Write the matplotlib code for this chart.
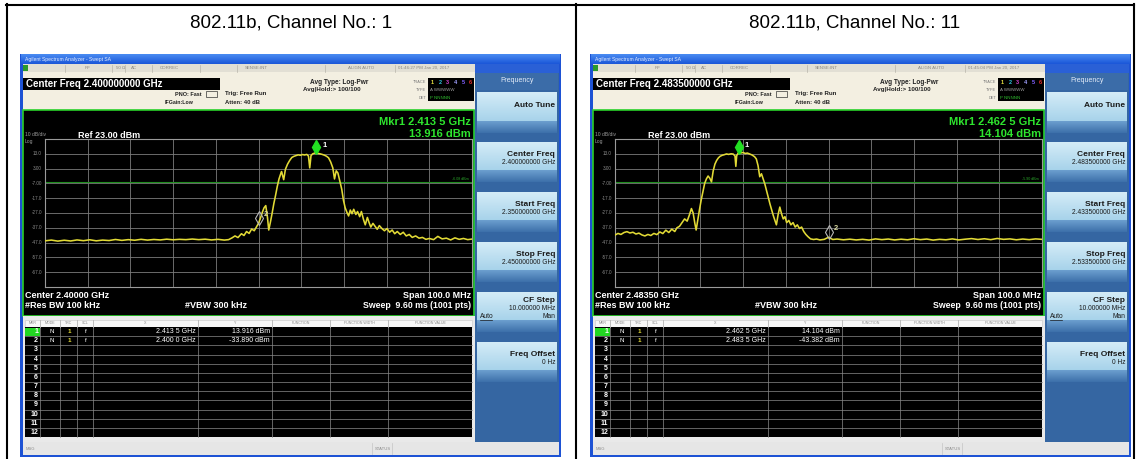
import numpy as np
import matplotlib
matplotlib.use("Agg")
import matplotlib.pyplot as plt
from matplotlib.patches import Rectangle
from matplotlib.colors import LinearSegmentedColormap
from matplotlib.transforms import offset_copy

plt.rcParams['font.family'] = ['Liberation Sans', 'DejaVu Sans']

W, H = 1137, 459

titles = ["802.11b, Channel No.: 1", "802.11b, Channel No.: 11"]
center_ghz = [2.400, 2.4835]
span_mhz = 100.0
ref_dbm = 23.0
dB_per_div = 10.0
y_labels = ["13.0", "3.00", "-7.00", "-17.0", "-27.0", "-37.0", "-47.0", "-57.0", "-67.0"]

mkr1_freq = [2.4135, 2.4625]
mkr1_level = [13.916, 14.104]
mkr2_freq = [2.4000, 2.4835]
mkr2_level = [-33.890, -43.382]
display_line = [-6.08, -5.90]
timestamps = ["01:46:27 PM Jan 20, 2017", "01:45:04 PM Jan 20, 2017"]

# trace of channel 1 (offset from center in MHz, level in dBm)
ch1_offset = [-50.0, -48.5, -47.0, -45.5, -44.0, -42.5, -41.0, -39.5, -38.0, -36.5,
              -35.0, -33.5, -32.0, -30.5, -29.0, -27.5, -26.0, -24.5, -23.0, -21.5,
              -20.0, -18.5, -17.0, -15.5, -14.0, -12.5, -11.0, -9.5, -8.0, -7.0,
              -6.2, -5.5, -4.8, -4.0, -3.4, -2.8, -2.2, -1.6, -1.0, -0.4,
              0.0, 0.4, 0.9, 1.3, 1.7, 2.1, 2.4, 2.8, 3.2, 3.6,
              4.0, 4.4, 4.8, 5.2, 5.4, 5.9, 6.3, 6.8, 7.3, 7.8,
              8.3, 8.8, 9.3, 9.8, 10.3, 10.8, 11.3, 11.7, 12.0, 12.3,
              12.7, 13.1, 13.5, 13.9, 14.4, 14.9, 15.4, 15.9, 16.4, 16.9,
              17.4, 17.8, 18.2, 18.6, 19.0, 19.5, 19.9, 20.3, 20.7, 21.1,
              21.5, 21.9, 22.3, 22.8, 23.2, 23.7, 24.1, 24.6, 25.0, 25.5,
              25.9, 26.3, 26.8, 27.3, 27.8, 28.3, 28.9, 29.5, 30.1, 30.7,
              31.3, 31.9, 32.5, 33.2, 33.9, 34.6, 35.3, 36.0, 36.8, 37.6,
              38.4, 39.2, 40.0, 41.0, 42.0, 43.0, 44.0, 45.0, 46.0, 47.0,
              48.0, 49.0, 50.0]
ch1_level = [-45.8, -45.3, -46.0, -45.4, -45.9, -45.2, -45.7, -45.1, -45.8, -45.3,
             -45.6, -44.9, -45.5, -45.0, -45.4, -44.8, -45.3, -44.9, -45.2, -44.7,
             -45.1, -44.8, -45.0, -44.6, -45.0, -44.7, -45.2, -44.8, -45.3, -45.0,
             -43.8, -42.5, -43.6, -41.0, -42.2, -39.5, -40.8, -37.8, -39.0, -36.0,
             -34.0, -31.0, -26.5, -23.5, -22.0, -30.0, -38.5, -33.0, -27.0, -20.5,
             -15.0, -9.0, -4.0, -0.5, 1.0, -4.5, 2.5, 6.0, 8.5, 10.5,
             11.3, 11.8, 12.3, 12.0, 12.5, 12.2, 12.6, 11.5, 3.5, 11.8,
             13.0, 13.4, 13.9, 13.3, 13.0, 12.6, 12.1, 11.4, 10.3, 7.5,
             3.5, -4.0, 1.5, 0.0, -5.0, -11.0, -18.5, -23.5, -26.5, -29.0,
             -25.0, -27.5, -24.5, -28.0, -26.0, -29.5, -26.0, -31.5, -35.0, -30.0,
             -33.5, -36.5, -34.0, -36.0, -38.0, -35.5, -37.5, -39.0, -37.5, -40.0,
             -38.5, -41.0, -39.5, -41.5, -40.0, -42.5, -41.5, -43.5, -42.5, -44.0,
             -43.5, -44.8, -44.2, -45.0, -42.8, -44.5, -44.0, -45.2, -43.8, -44.8,
             -44.2, -45.0, -44.6]

# trace of channel 11
ch11_offset = [-50.0, -49.3, -48.6, -47.9, -47.2, -46.5, -45.8, -45.1, -44.4, -43.7,
               -43.0, -42.3, -41.6, -40.9, -40.2, -39.5, -38.8, -38.1, -37.4, -36.7,
               -36.0, -35.5, -34.9, -34.3, -33.7, -33.1, -32.6, -32.1, -31.7, -31.3,
               -31.0, -30.6, -30.2, -29.8, -29.4, -29.0, -28.6, -28.2, -27.8, -27.4,
               -27.0, -26.6, -26.2, -25.8, -25.4, -24.9, -24.4, -23.9, -23.4, -22.8,
               -22.3, -21.9, -21.7, -21.5, -21.0, -20.5, -20.0, -19.5, -19.0, -18.4,
               -17.9, -17.3, -16.9, -16.5, -16.1, -15.7, -15.3, -14.9, -14.5, -14.1,
               -13.7, -13.3, -12.9, -12.5, -12.2, -11.8, -11.4, -11.0, -10.6, -10.2,
               -9.8, -9.3, -8.8, -8.3, -7.8, -7.3, -6.8, -6.3, -5.8, -5.3,
               -4.8, -4.2, -3.5, -2.8, -2.0, -1.0, 0.0, 1.0, 2.0, 3.5,
               5.0, 6.5, 8.0, 9.5, 11.0, 12.5, 14.0, 15.5, 17.0, 18.5,
               20.0, 21.5, 23.0, 24.5, 26.0, 27.5, 29.0, 30.5, 32.0, 33.5,
               35.0, 36.5, 38.0, 39.5, 41.0, 42.5, 44.0, 45.5, 47.0, 48.5,
               50.0]
ch11_level = [-41.9, -40.8, -41.5, -40.2, -39.6, -40.5, -40.0, -41.2, -40.6, -41.8,
              -42.5, -41.5, -42.2, -40.8, -41.6, -39.8, -40.9, -38.6, -40.2, -37.9,
              -39.5, -37.0, -36.0, -33.5, -31.0, -32.5, -28.5, -24.0, -27.0, -34.0,
              -38.5, -31.5, -24.5, -18.0, -12.5, -7.0, -4.0, -2.0, -3.5, -6.0,
              1.5, 6.0, 8.5, 10.2, 11.3, 12.0, 12.4, 12.9, 12.6, 13.0,
              12.8, 11.5, 4.5, 11.8, 14.1, 13.6, 13.9, 13.2, 13.5, 12.8,
              12.2, 11.0, 9.5, 5.0, -2.5, -0.5, -4.0, -7.5, -12.0, -16.5,
              -21.0, -25.0, -29.0, -32.5, -35.0, -28.0, -23.0, -27.5, -31.0, -29.5,
              -33.5, -32.0, -35.0, -33.5, -36.5, -35.0, -37.5, -36.5, -39.5, -41.5,
              -43.0, -44.5, -44.9, -44.6, -45.2, -44.8, -43.4, -44.9, -44.6, -45.1,
              -44.7, -45.2, -44.8, -45.3, -44.5, -45.0, -44.6, -45.2, -44.7, -45.1,
              -44.4, -45.0, -44.6, -45.3, -44.8, -45.1, -44.5, -45.2, -44.7, -44.3,
              -44.9, -44.4, -45.0, -44.2, -44.8, -44.5, -45.1, -44.6, -45.0, -44.5,
              -44.8]

traces = [(ch1_offset, ch1_level), (ch11_offset, ch11_level)]

table_cols = ["MKR", "MODE", "TRC", "SCL", "X", "Y", "FUNCTION", "FUNCTION WIDTH", "FUNCTION VALUE"]
col_edges = [25, 40, 60, 77, 93, 198, 272, 330, 388, 472]
softkeys = ["Auto Tune", "Center Freq", "Start Freq", "Stop Freq", "CF Step", "Freq Offset"]


def rect(ax, x0, y0, x1, y1, fc, ec='none', lw=0, z=1):
    ax.add_patch(Rectangle((x0, y0), x1 - x0, y1 - y0, facecolor=fc, edgecolor=ec, linewidth=lw, zorder=z))


def grad(ax, x0, y0, x1, y1, colors, z=1):
    cmap = LinearSegmentedColormap.from_list('g', colors)
    ax.imshow(np.linspace(0, 1, 64).reshape(-1, 1), extent=(x0, x1, y1, y0), cmap=cmap,
              aspect='auto', interpolation='bilinear', zorder=z)


def txt(ax, x, y, s, size, color='black', bold=False, ha='left', z=5):
    ax.text(x, y, s, fontsize=size, color=color, fontweight='bold' if bold else 'normal',
            ha=ha, va='center', zorder=z)


def fmt_freq(f):
    s = "%.4f" % f
    return s[:-1] + " " + s[-1] + " GHz"


def draw_screen(fig, bg, i, dx):
    c = center_ghz[i]
    start = c - span_mhz / 2000.0
    stop = c + span_mhz / 2000.0

    # window frame and title bar
    rect(bg, dx + 20, 54, dx + 561, 457, '#1d52d4')
    grad(bg, dx + 21, 54, dx + 560, 64, ['#4a8cf2', '#1a56d8'], z=2)
    txt(bg, dx + 25, 59.5, "Agilent Spectrum Analyzer - Swept SA", 3.6, '#e8f0ff')

    # status row
    rect(bg, dx + 23, 64, dx + 475, 72, '#e2dfd4', z=2)
    rect(bg, dx + 23, 65, dx + 28, 71, '#2a9a2a', z=3)
    for sx in [65, 112, 125, 152, 200, 237, 325, 395]:
        bg.plot([dx + sx, dx + sx], [64.5, 71.5], color='#b8b4aa', lw=0.5, zorder=3)
    for sx, s in [(85, "RF"), (116, "50 \u03a9"), (131, "AC"), (160, "CORREC"),
                  (245, "SENSE:INT"), (348, "ALIGN AUTO"), (398, timestamps[i])]:
        txt(bg, dx + sx, 68, s, 3.2, '#8a8880')

    # info area
    rect(bg, dx + 23, 72, dx + 475, 110, '#f3efe1', z=2)
    rect(bg, dx + 23, 78, dx + 220, 90, 'black', z=3)
    txt(bg, dx + 26, 84.3, "Center Freq %.9f GHz" % c, 7, 'white', bold=True)
    txt(bg, dx + 175, 94, "PNO: Fast", 4, '#222222', bold=True)
    txt(bg, dx + 165, 102.5, "IFGain:Low", 3.8, '#222222', bold=True)
    rect(bg, dx + 206, 91, dx + 217, 97, 'none', ec='#333333', lw=0.5, z=3)
    txt(bg, dx + 225, 94, "Trig: Free Run", 4.4, '#222222', bold=True)
    txt(bg, dx + 225, 102, "Atten: 40 dB", 4.2, '#222222', bold=True)
    txt(bg, dx + 310, 82, "Avg Type: Log-Pwr", 4.7, '#222222', bold=True)
    txt(bg, dx + 303, 90, "Avg|Hold:> 100/100", 4.5, '#222222', bold=True)
    for yy, s in [(82, "TRACE"), (90, "TYPE"), (98, "DET")]:
        txt(bg, dx + 426, yy, s, 2.8, '#777777', ha='right')
    rect(bg, dx + 428, 78, dx + 474, 101, 'black', z=3)
    for k, col in enumerate(['#e8e040', '#30c8e8', '#d040d0', '#a0a0ff', '#8060ff', '#e83030']):
        txt(bg, dx + 431 + k * 7.6, 82, str(k + 1), 4, col, bold=True)
    txt(bg, dx + 430, 90, "A WWWWW", 3.2, '#a0a0a0')
    txt(bg, dx + 430, 98, "P NNNNN", 3.2, '#30c030')

    # measurement display
    rect(bg, dx + 23, 110, dx + 474, 316, 'black', ec='#2ad02a', lw=1.2, z=2)
    txt(bg, dx + 471, 122, "Mkr1 " + fmt_freq(mkr1_freq[i]), 8, '#2ee52e', bold=True, ha='right')
    txt(bg, dx + 471, 134, "%.3f dBm" % mkr1_level[i], 8, '#2ee52e', bold=True, ha='right')
    txt(bg, dx + 25, 135, "10 dB/div", 3.6, '#9a9a9a')
    txt(bg, dx + 25, 141, "Log", 3.6, '#9a9a9a')
    txt(bg, dx + 78, 135, "Ref %.2f dBm" % ref_dbm, 6.5, 'white', bold=True)
    for k, s in enumerate(y_labels):
        txt(bg, dx + 42, 139 + (k + 1) * 14.8, s, 3.3, '#8c8c8c', ha='right')
    txt(bg, dx + 25, 295, "Center %.5f GHz" % c, 6.5, 'white', bold=True)
    txt(bg, dx + 471, 295, "Span %.1f MHz" % span_mhz, 6.5, 'white', bold=True, ha='right')
    txt(bg, dx + 25, 306, "#Res BW 100 kHz", 6.5, 'white', bold=True)
    txt(bg, dx + 185, 306, "#VBW 300 kHz", 6.5, 'white', bold=True)
    txt(bg, dx + 471, 306, "Sweep  9.60 ms (1001 pts)", 6.3, 'white', bold=True, ha='right')

    # spectrum graticule
    gx, gy, gw, gh = dx + 45, 139, 427, 148
    ax = fig.add_axes([gx / W, 1 - (gy + gh) / H, gw / W, gh / H])
    ax.set_facecolor('black')
    off, lev = traces[i]
    freq = [c + o / 1000.0 for o in off]
    ax.plot(freq, lev, color='#e2da36', lw=1.15, zorder=3)
    ax.axhline(display_line[i], color='#1f8f1f', lw=0.8, zorder=2)
    ax.text(stop - 0.0008, display_line[i] + 0.8, "%.2f dBm" % display_line[i], fontsize=2.6,
            color='#2aa82a', ha='right', va='bottom')
    ax.set_xlim(start, stop)
    ax.set_ylim(ref_dbm - 10 * dB_per_div, ref_dbm)
    ax.set_xticks(np.linspace(start, stop, 11))
    ax.set_yticks(np.linspace(ref_dbm - 10 * dB_per_div, ref_dbm, 11))
    ax.grid(True, color='#7c7c7c', lw=0.6)
    ax.tick_params(length=0, labelbottom=False, labelleft=False)
    for sp in ax.spines.values():
        sp.set_color('#9a9a9a')
        sp.set_linewidth(0.8)
    up = offset_copy(ax.transData, fig=fig, x=0, y=5, units='dots')
    ax.plot(mkr1_freq[i], mkr1_level[i], marker='d', ms=7, color='#22e022', mec='#22e022',
            transform=up, clip_on=False, zorder=5)
    ax.text(mkr1_freq[i], mkr1_level[i], "1", fontsize=5.5, color='white', fontweight='bold',
            transform=offset_copy(ax.transData, fig=fig, x=6, y=7, units='dots'), va='center', clip_on=False)
    ax.plot(mkr2_freq[i], mkr2_level[i], marker='d', ms=7, color='none', mec='#b8b8b8', mew=0.8,
            transform=up, zorder=5)
    ax.text(mkr2_freq[i], mkr2_level[i], "2", fontsize=5.5, color='#d8d8a0', fontweight='bold',
            transform=offset_copy(ax.transData, fig=fig, x=5, y=9, units='dots'), va='center')

    # marker table
    rect(bg, dx + 23, 316, dx + 475, 442, '#e9e9e9', z=2)
    rect(bg, dx + 25, 320, dx + 472, 327, '#f7f7f7', ec='#c8c8c8', lw=0.4, z=3)
    rect(bg, dx + 25, 327, dx + 472, 437, 'black', z=3)
    for k, s in enumerate(table_cols):
        txt(bg, dx + (col_edges[k] + col_edges[k + 1]) / 2, 323.5, s, 2.6, '#8a8a8a', ha='center')
    for ex in col_edges[1:-1]:
        bg.plot([dx + ex, dx + ex], [320, 437], color='#8a8a8a', lw=0.5, zorder=4)
        bg.plot([dx + ex, dx + ex], [320, 327], color='#c8c8c8', lw=0.5, zorder=4)
    rh = 110 / 12.0
    for r in range(1, 12):
        bg.plot([dx + 25, dx + 472], [327 + r * rh] * 2, color='#8a8a8a', lw=0.5, zorder=4)
    rect(bg, dx + 25, 327.5, dx + 40, 327 + rh, '#22d822', z=4)
    for r in range(12):
        txt(bg, dx + 38, 327 + (r + 0.5) * rh, str(r + 1), 5, 'white', bold=True, ha='right')
    for r, (f, l) in enumerate([(mkr1_freq[i], mkr1_level[i]), (mkr2_freq[i], mkr2_level[i])]):
        yy = 327 + (r + 0.5) * rh
        txt(bg, dx + 52, yy, "N", 4.5, 'white', ha='center')
        txt(bg, dx + 69, yy, "1", 4.5, '#e6df3a', bold=True, ha='center')
        txt(bg, dx + 86, yy, "f", 4.5, 'white', ha='center')
        txt(bg, dx + 196, yy, fmt_freq(f), 5, 'white', ha='right')
        txt(bg, dx + 270, yy, "%.3f dBm" % l, 5, 'white', ha='right')

    # bottom status bar
    rect(bg, dx + 23, 442, dx + 559, 455, '#e6e6e6', z=2)
    bg.plot([dx + 372, dx + 372], [443, 454], color='#c4c4c4', lw=0.5, zorder=3)
    bg.plot([dx + 392, dx + 392], [443, 454], color='#c4c4c4', lw=0.5, zorder=3)
    txt(bg, dx + 26, 448.5, "MSG", 3, '#8a8a8a')
    txt(bg, dx + 375, 448.5, "STATUS", 3, '#8a8a8a')

    # softkey panel
    rect(bg, dx + 475, 64, dx + 559, 442, '#3566a2', z=2)
    rect(bg, dx + 475, 64, dx + 559, 73, '#2a60d6', z=2)
    rect(bg, dx + 476, 73, dx + 558, 90, '#3b6ca8', z=3)
    txt(bg, dx + 517, 81, "Frequency", 5, '#e4ecf8', ha='center')
    values = [None, "%.9f GHz" % c, "%.9f GHz" % start, "%.9f GHz" % stop, "10.000000 MHz", "0 Hz"]
    tops = [92, 142, 192, 242, 292, 342]
    bots = [133, 182, 232, 282, 332, 382]
    for k, name in enumerate(softkeys):
        t, b = tops[k], bots[k]
        split = t + (b - t) * 0.72
        grad(bg, dx + 477, t, dx + 557, split, ['#d4ecf7', '#a6d2ea'], z=3)
        grad(bg, dx + 477, split, dx + 557, b, ['#6c9fcf', '#3d70aa'], z=3)
        if values[k] is None:
            txt(bg, dx + 555, (t + b) / 2 - 7, name, 6, '#1a1a1a', bold=True, ha='right')
        elif name == "CF Step":
            txt(bg, dx + 555, t + 9, name, 6, '#1a1a1a', bold=True, ha='right')
            txt(bg, dx + 555, t + 17, values[k], 4.8, '#1a1a1a', ha='right')
            txt(bg, dx + 555, t + 24.5, "Man", 4.8, '#1a1a1a', ha='right')
        else:
            txt(bg, dx + 555, t + 12, name, 6, '#1a1a1a', bold=True, ha='right')
            txt(bg, dx + 555, t + 21, values[k], 4.8, '#1a1a1a', ha='right')
    txt(bg, dx + 480, 316.5, "Auto", 4.8, '#1a1a1a')
    bg.plot([dx + 480, dx + 492], [319.5, 319.5], color='#1a1a1a', lw=0.5, zorder=6)


fig = plt.figure(figsize=(W / 100, H / 100), dpi=100)
bg = fig.add_axes([0, 0, 1, 1])
bg.set_axis_off()

# outer table frame
for xs, ys in [([6.5, 6.5], [4, 459]), ([576, 576], [4, 459]), ([1133.5, 1133.5], [4, 459]),
               ([6, 1134], [4.5, 4.5])]:
    bg.plot(xs, ys, color='black', lw=1.5, zorder=10)
bg.text(291, 23, titles[0], fontsize=13.5, ha='center', va='center')
bg.text(855, 23, titles[1], fontsize=13.5, ha='center', va='center')

draw_screen(fig, bg, 0, 0)
draw_screen(fig, bg, 1, 570)

bg.set_xlim(0, W)
bg.set_ylim(H, 0)
fig.savefig("out.png", dpi=100)
